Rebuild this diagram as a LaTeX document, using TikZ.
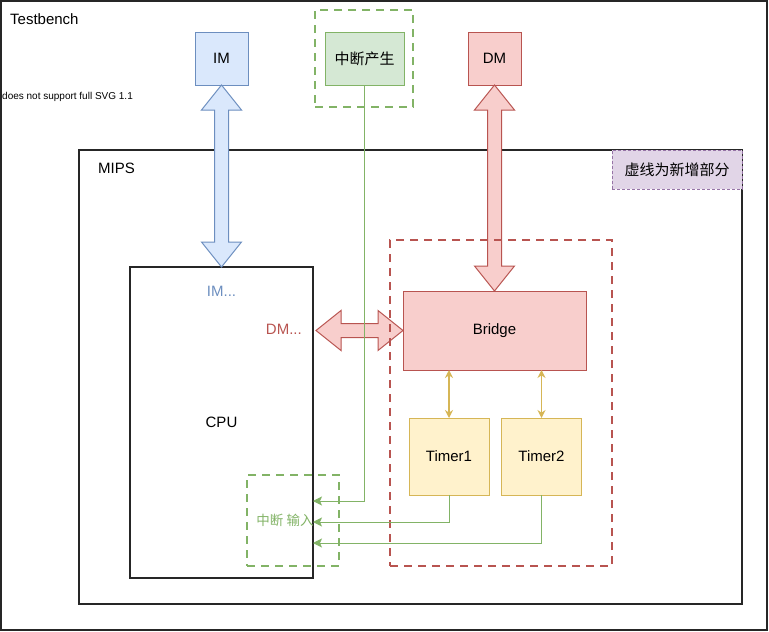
\documentclass[tikz,border=0pt]{standalone}
\usepackage{fontspec}
\setmainfont{Liberation Sans}
\newfontfamily\cjk{Noto Sans CJK SC}
\usetikzlibrary{calc, arrows.meta}

\definecolor{imfill}{HTML}{DAE8FC}
\definecolor{imline}{HTML}{6C8EBF}
\definecolor{dmfill}{HTML}{F8CECC}
\definecolor{dmline}{HTML}{B85450}
\definecolor{irqfill}{HTML}{D5E8D4}
\definecolor{irqline}{HTML}{82B366}
\definecolor{tmfill}{HTML}{FFF2CC}
\definecolor{tmline}{HTML}{D6B656}
\definecolor{notefill}{HTML}{E1D5E7}
\definecolor{noteline}{HTML}{9673A6}

\tikzset{
  plainbox/.style={draw=black!85, line width=1.3pt, inner sep=0pt, outer sep=0pt},
  unitbox/.style={draw, line width=1pt, inner sep=0pt, outer sep=0pt, minimum width=53pt, minimum height=53pt},
  newpart/.style={line width=2.8pt, dash pattern=on 8pt off 6pt, inner sep=0pt, outer sep=0pt},
  fatarrow/.style={line width=1pt, line join=miter},
  irqwire/.style={draw=irqline, line width=1pt, -{Stealth[length=9pt, width=9pt, inset=2pt]}},
  buswire/.style={draw=tmline, line width=1.5pt, {Stealth[length=8pt, width=8pt]}-{Stealth[length=8pt, width=8pt]}}
}

% fat two-headed arrow between two points
\newcommand{\fatarrow}[3]{%
  \coordinate (fa-a) at ($(#1)!25pt!(#2)$);
  \coordinate (fa-b) at ($(#2)!25pt!(#1)$);
  \draw[fatarrow, #3] (#1) -- ($(fa-a)!20pt!90:(#2)$) -- ($(fa-a)!7pt!90:(#2)$)
    -- ($(fa-b)!7pt!-90:(#1)$) -- ($(fa-b)!20pt!-90:(#1)$) -- (#2)
    -- ($(fa-b)!20pt!90:(#1)$) -- ($(fa-b)!7pt!90:(#1)$)
    -- ($(fa-a)!7pt!-90:(#2)$) -- ($(fa-a)!20pt!-90:(#2)$) -- cycle;
}

\begin{document}
\begin{tikzpicture}[x=1pt, y=-1pt, font=\fontsize{15}{18}\selectfont]
  \useasboundingbox (0,0) rectangle (769,632);

  % Frames:
  \node[plainbox, minimum width=766pt, minimum height=629pt] (testbench) at (384,315.5) {};
  \node[anchor=west, inner sep=0pt] (tblabel) at (10,19) {Testbench};
  \node[anchor=west, inner sep=0pt, font=\fontsize{10}{12}\selectfont] (svgnote) at (2,97) {does not support full SVG 1.1};
  \node[plainbox, minimum width=663pt, minimum height=454pt] (mips) at (410.5,377) {};
  \node[anchor=west, inner sep=0pt] (mipslabel) at (98,168) {MIPS};
  \node[plainbox, minimum width=183pt, minimum height=311pt] (cpu) at (221.5,422.5) {CPU};
  \node[text=imline] (import) at (221.5,291) {IM...};
  \node[text=dmline, anchor=east, inner sep=0pt] (dmportlabel) at (302,329) {DM...};

  % Memories and interrupt source:
  \node[unitbox, draw=imline, fill=imfill] (im) at (221.5,58.5) {IM};
  \node[unitbox, draw=dmline, fill=dmfill] (dm) at (494.5,58.5) {DM};
  \node[unitbox, draw=irqline, fill=irqfill, minimum width=79pt] (irqgen) at (364.5,58.5) {\cjk 中断产生};

  % Bridge and timers:
  \node[unitbox, draw=dmline, fill=dmfill, minimum width=183pt, minimum height=79pt] (bridge) at (494.5,330.5) {Bridge};
  \node[unitbox, draw=tmline, fill=tmfill, minimum width=80pt, minimum height=77pt] (timer1) at (449,456.5) {Timer1};
  \node[unitbox, draw=tmline, fill=tmfill, minimum width=80pt, minimum height=77pt] (timer2) at (541.5,456.5) {Timer2};

  % Fat arrows:
  \coordinate (dmport) at ($(cpu.east |- bridge.west)+(3,0)$);
  \fatarrow{im.south}{cpu.north}{draw=imline, fill=imfill}
  \fatarrow{dm.south}{bridge.north}{draw=dmline, fill=dmfill}
  \fatarrow{dmport}{bridge.west}{draw=dmline, fill=dmfill}

  \draw[buswire] (timer1.north) -- (timer1.north |- bridge.south);
  \draw[buswire] (timer2.north) -- (timer2.north |- bridge.south);

  % New parts (dashed):
  \node[newpart, draw=irqline, minimum width=98pt, minimum height=97pt] (genframe) at (364,58.5) {};
  \node[newpart, draw=dmline, minimum width=222pt, minimum height=326pt] (busframe) at (501,403) {};
  \node[newpart, draw=irqline, minimum width=92pt, minimum height=91pt] (inframe) at (293,520.5) {};
  \node[text=irqline, font=\fontsize{13.5}{16}\selectfont\cjk] (inlabel) at (285,520) {中断 输入};
  \node[draw=noteline, fill=notefill, dash pattern=on 3pt off 2pt, line width=1pt, minimum width=130pt, minimum height=39pt, inner sep=0pt] (note) at (677,169.5) {\cjk 虚线为新增部分};

  % Interrupt lines:
  \coordinate (in1) at (cpu.east |- 0,501);
  \coordinate (in2) at (cpu.east |- 0,522);
  \coordinate (in3) at (cpu.east |- 0,543);
  \draw[irqwire] (irqgen.south) |- (in1);
  \draw[irqwire] (timer1.south) |- (in2);
  \draw[irqwire] (timer2.south) |- (in3);
\end{tikzpicture}
\end{document}
